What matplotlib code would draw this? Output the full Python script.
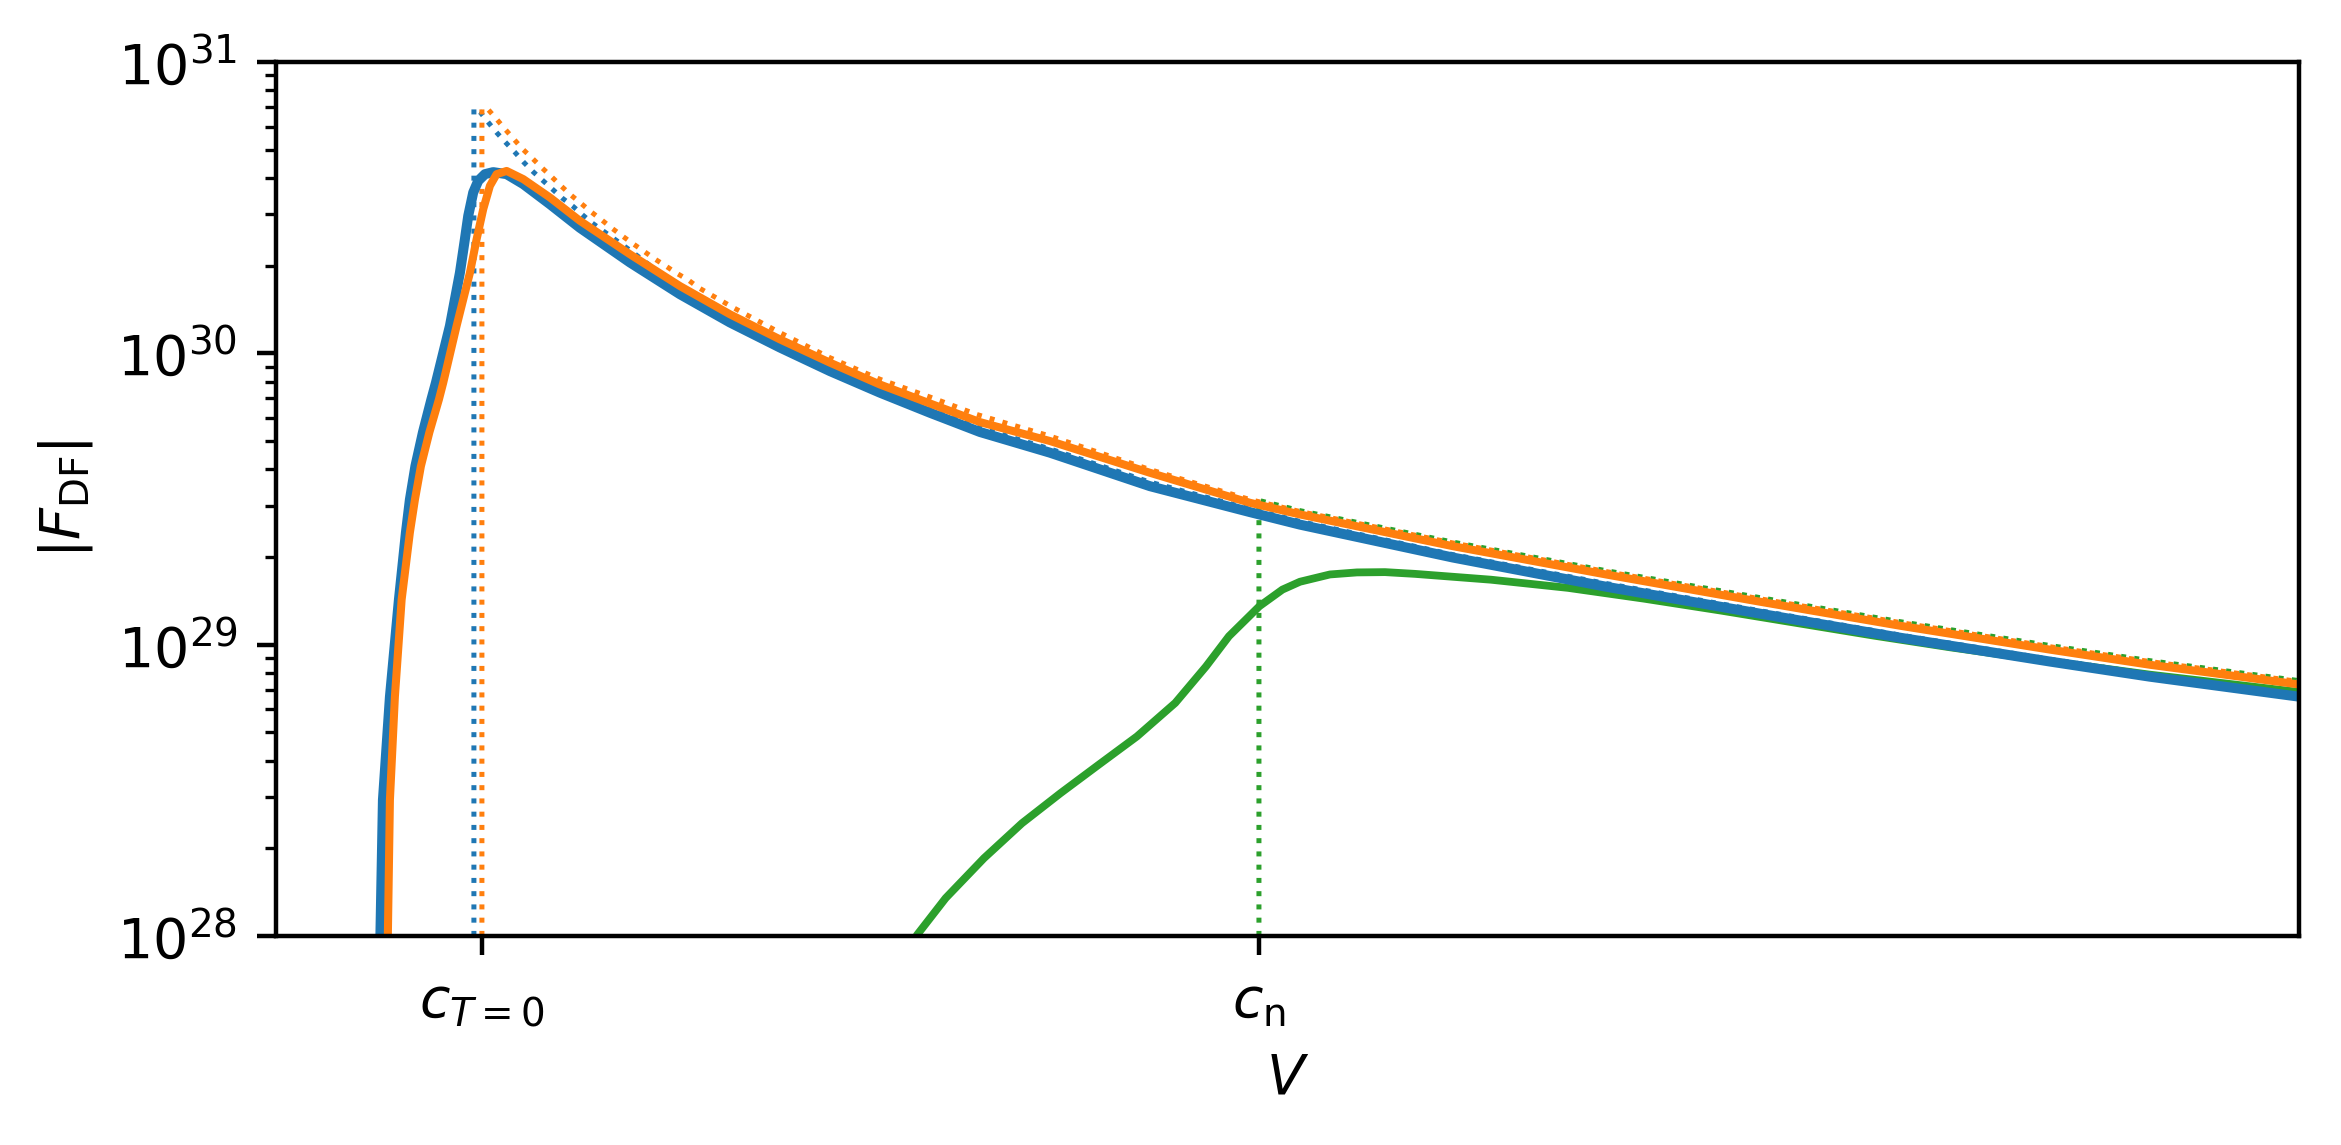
import numpy as np
import matplotlib
matplotlib.use("Agg")
import matplotlib.pyplot as plt
from matplotlib.ticker import NullLocator

# Reference speeds (arbitrary units)
c_T0 = 1.0
c_n = 2.0
tick_labels = [r"$c_{T=0}$", r"$c_{\rm n}$"]

# ---- solid curves: V and log10|F_DF| ----
blue_V = [0.8668, 0.8694, 0.8726, 0.8816, 0.8932, 0.9022, 0.9073, 0.9144, 0.9241, 0.9350,
          0.9408, 0.9588, 0.9717, 0.9781, 0.9824, 0.9888, 0.9952, 1.0039, 1.0145, 1.0318,
          1.0532, 1.0875, 1.1261, 1.1905, 1.2548, 1.3192, 1.3835, 1.4479, 1.5122, 1.5766,
          1.6409, 1.7310, 1.8597, 1.9884, 2.0528, 2.2497, 2.4466, 2.6435, 2.8250, 3.0180,
          3.1467, 3.3398]
blue_logF = [27.78, 28.010, 28.467, 28.821, 29.155, 29.385, 29.498, 29.613, 29.729, 29.842,
             29.899, 30.094, 30.277, 30.392, 30.472, 30.552, 30.592, 30.615, 30.622, 30.615,
             30.581, 30.512, 30.431, 30.312, 30.203, 30.106, 30.020, 29.939, 29.865, 29.796,
             29.730, 29.659, 29.544, 29.455, 29.412, 29.299, 29.199, 29.107, 29.024, 28.942,
             28.890, 28.821]

orange_V = [0.8771, 0.8790, 0.8816, 0.8880, 0.8967, 0.9073, 0.9138, 0.9215, 0.9324, 0.9447,
            0.9502, 0.9674, 0.9846, 0.9932, 1.0017, 1.0103, 1.0189, 1.0318, 1.0532, 1.0875,
            1.1261, 1.1905, 1.2548, 1.3192, 1.3835, 1.4479, 1.5122, 1.5766, 1.6409, 1.7310,
            1.8597, 1.9884, 2.0528, 2.2497, 2.4466, 2.6435, 2.8250, 3.0180, 3.1467, 3.3398]
orange_logF = [27.78, 28.010, 28.467, 28.821, 29.155, 29.385, 29.498, 29.613, 29.729, 29.842,
               29.899, 30.094, 30.277, 30.392, 30.495, 30.575, 30.615, 30.626, 30.598, 30.535,
               30.455, 30.340, 30.231, 30.134, 30.048, 29.968, 29.893, 29.828, 29.764, 29.699,
               29.590, 29.487, 29.447, 29.338, 29.241, 29.148, 29.065, 28.983, 28.931, 28.863]

green_V = [1.5444, 1.5598, 1.5968, 1.6461, 1.6950, 1.7445, 1.7938, 1.8430, 1.8923, 1.9318,
           1.9614, 2.0006, 2.0302, 2.0528, 2.0914, 2.1261, 2.1622, 2.2008, 2.2986, 2.3977,
           2.4955, 2.5946, 2.6931, 2.7915, 2.8893, 3.0180, 3.1467, 3.3398]
green_logF = [27.866, 28.003, 28.130, 28.267, 28.387, 28.490, 28.588, 28.685, 28.800, 28.925,
              29.029, 29.132, 29.189, 29.216, 29.241, 29.248, 29.249, 29.243, 29.223, 29.195,
              29.158, 29.117, 29.074, 29.031, 28.991, 28.943, 28.897, 28.837]

# ---- dotted curves (vertical at the sound speed, then decaying branch) ----
blue_dot_V = [0.9897, 0.9897, 0.9974, 1.0081, 1.0189, 1.0305, 1.0425, 1.0541, 1.0660, 1.0789,
              1.0905, 1.1033, 1.1175, 1.1296, 1.1420, 1.1905, 1.2548, 1.3192, 1.3835, 1.4479,
              1.5122, 1.5766, 1.6409, 1.7310, 1.8597, 1.9884, 2.0528, 2.2497, 2.4466, 2.6435,
              2.8250, 3.0180, 3.1467, 3.3398]
blue_dot_logF = [27.5, 30.842, 30.829, 30.793, 30.758, 30.724, 30.690, 30.655, 30.623, 30.592,
                 30.564, 30.533, 30.504, 30.475, 30.447, 30.354, 30.223, 30.124, 30.036, 29.955,
                 29.880, 29.811, 29.744, 29.672, 29.558, 29.466, 29.423, 29.309, 29.210, 29.117,
                 29.033, 28.950, 28.899, 28.830]

orange_dot_V = [1.0, 1.0, 1.0077, 1.0189, 1.0296, 1.0412, 1.0524, 1.0647, 1.0768, 1.0897,
                1.1017, 1.1142, 1.1274, 1.1403, 1.1541, 1.1670, 1.1806, 1.1940, 1.2076, 1.2218,
                1.2365, 1.2506, 1.2655, 1.2784, 1.3234, 1.3835, 1.4479, 1.5122, 1.5766, 1.6370,
                1.7310, 1.8597, 1.9884, 2.0528, 2.2497, 2.4466, 2.6435, 2.8250, 3.0180, 3.1467,
                3.3398]
orange_dot_logF = [27.5, 30.841, 30.838, 30.804, 30.770, 30.735, 30.701, 30.670, 30.638, 30.606,
                   30.575, 30.544, 30.515, 30.486, 30.458, 30.430, 30.403, 30.377, 30.352, 30.325,
                   30.300, 30.275, 30.252, 30.226, 30.157, 30.071, 29.985, 29.911, 29.850, 29.790,
                   29.716, 29.601, 29.498, 29.457, 29.349, 29.251, 29.158, 29.076, 28.993, 28.942,
                   28.873]

green_dot_V = [2.0, 2.0, 2.0528, 2.2497, 2.4466, 2.6435, 2.8250, 3.0180, 3.1467, 3.3398]
green_dot_logF = [27.5, 29.495, 29.460, 29.352, 29.254, 29.162, 29.079, 28.997, 28.945, 28.876]

C0, C1, C2 = "#1f77b4", "#ff7f0e", "#2ca02c"

fig = plt.figure(figsize=(2341 / 400, 1145 / 400), dpi=400)
ax = fig.add_axes([276 / 2341, 1 - 936 / 1145, (2299 - 276) / 2341, (936 - 62) / 1145])

ax.plot(blue_dot_V, 10 ** np.array(blue_dot_logF), ":", color=C0, lw=0.9, zorder=1.5)
ax.plot(orange_dot_V, 10 ** np.array(orange_dot_logF), ":", color=C1, lw=0.9, zorder=1.6)
ax.plot(green_dot_V, 10 ** np.array(green_dot_logF), ":", color=C2, lw=0.9, zorder=1.7)

ax.plot(green_V, 10 ** np.array(green_logF), "-", color=C2, lw=1.4, zorder=2.0)
ax.plot(blue_V, 10 ** np.array(blue_logF), "-", color=C0, lw=1.8, zorder=2.1)
ax.plot(orange_V, 10 ** np.array(orange_logF), "-", color=C1, lw=1.45, zorder=2.2)

ax.set_yscale("log")
ax.set_ylim(1e28, 1e31)
ax.set_xlim(0.735, 3.3385)
ax.set_xticks([c_T0, c_n])
ax.set_xticklabels(tick_labels)
ax.xaxis.set_minor_locator(NullLocator())
ax.set_xlabel(r"$V$")
ax.set_ylabel(r"$|F_{\rm DF}|$")

fig.savefig("out.png", dpi=400)
